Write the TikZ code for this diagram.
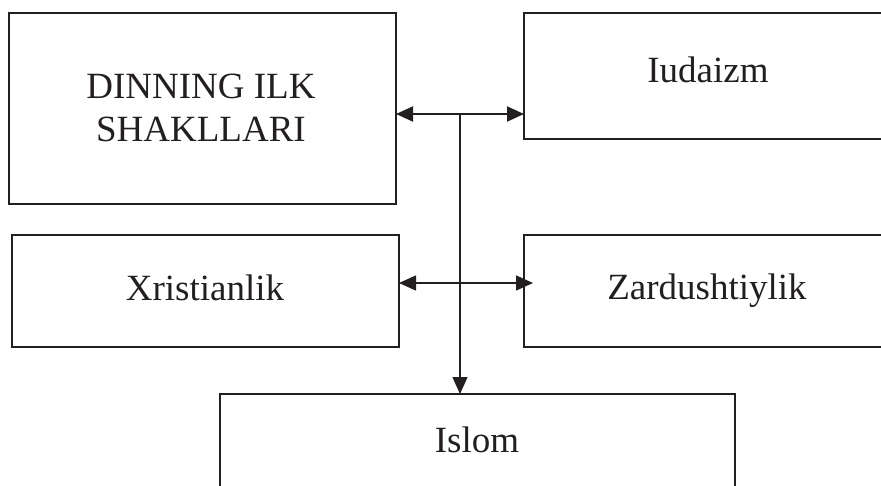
\documentclass[tikz,border=0pt]{standalone}
\usepackage{fontspec}
\setmainfont{Liberation Serif}
\usetikzlibrary{arrows.meta}
\definecolor{ink}{RGB}{35,31,32}
\begin{document}
\begin{tikzpicture}[x=1pt,y=-1pt,
  box/.style={draw=ink,line width=1.4pt,rectangle,inner sep=0pt,outer sep=0pt},
  lbl/.style={text=ink,inner sep=0pt,anchor=base,font=\fontsize{37}{43}\selectfont},
  tip/.tip={Triangle[length=17pt,width=15pt]},
  conn/.style={draw=ink,-tip},
  bconn/.style={draw=ink,tip-tip}]
\useasboundingbox (0,0) rectangle (881,485);
% boxes
\node[box,minimum width=387pt,minimum height=191pt] (A) at (202.5,108.5) {};
\node[box,minimum width=376pt,minimum height=126pt] (B) at (712,76) {};
\node[box,minimum width=387pt,minimum height=112pt] (C) at (205.5,291) {};
\node[box,minimum width=376pt,minimum height=112pt] (D) at (712,291) {};
\node[box,minimum width=515pt,minimum height=112pt] (E) at (477.5,450) {};
% labels
\node[lbl] (tA1) at (201,98) {DINNING ILK};
\node[lbl] (tA2) at (201,141) {SHAKLLARI};
\node[lbl] (tB) at (708,82) {Iudaizm};
\node[lbl] (tC) at (205,300) {Xristianlik};
\node[lbl] (tD) at (707,299) {Zardushtiylik};
\node[lbl] (tE) at (477,452) {Islom};
% connectors
\coordinate (j1) at (460,114);
\coordinate (j2) at (460,283);
\draw[bconn,line width=2pt] (j1 -| A.east) -- (j1 -| B.west);
\draw[conn,line width=1.3pt] (j1) -- (j1 |- E.north);
\draw[bconn,line width=1.4pt,shorten >=-9pt] (j2 -| C.east) -- (j2 -| D.west);
\end{tikzpicture}
\end{document}
